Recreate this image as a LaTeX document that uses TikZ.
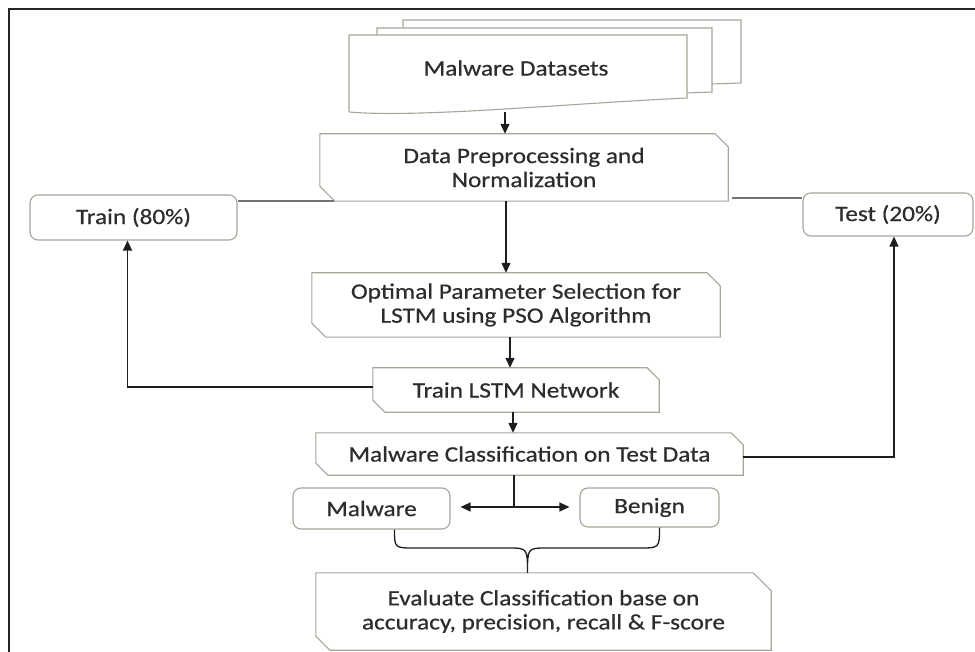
\documentclass[tikz,border=0pt]{standalone}
\usepackage{fontspec}
\setmainfont{Carlito}[FakeStretch=1.15,FakeBold=0.6]
\usetikzlibrary{arrows.meta,calc}
\definecolor{edge}{RGB}{160,168,152}
\definecolor{txt}{RGB}{45,45,45}
\definecolor{conn}{RGB}{30,30,30}
\definecolor{glin}{RGB}{115,115,115}
\newcommand\chamfer[3]{\draw[edgeline] (#1.north west) -- ([xshift=-#2]#1.north east) -- ([yshift=-#2]#1.north east) -- (#1.south east) -- ([xshift=#3]#1.south west) -- ([yshift=#3]#1.south west) -- cycle;}
\begin{document}
\begin{tikzpicture}[x=1pt,y=-1pt,
  box/.style={inner sep=0pt, align=center, text=txt, font=\fontsize{22}{24}\selectfont},
  rbox/.style={box, draw=edge, line width=1.1pt, rounded corners=8pt},
  edgeline/.style={draw=edge, line width=1.1pt},
  arr/.style={draw=conn, line width=1.3pt, -{Triangle[length=10pt,width=9pt]}},
  link/.style={draw=conn, line width=1.2pt},
  glink/.style={draw=glin, line width=1.5pt}]
\useasboundingbox (0,0) rectangle (975,652);
% frame
\draw[line width=2pt, black!85] (975,9) -- (9,9) -- (9,652);
% dataset stack
\draw[edgeline] (377,35) -- (377,28) -- (712,28) -- (712,92) -- (687,93);
\draw[edgeline] (403,28) -- (403,20) -- (741,20) -- (741,83) -- (712,84);
\draw[edgeline, fill=white] (349,112) -- (349,35) -- (687,35) -- (687,98) .. controls (560,104) and (420,118) .. (349,112);
\node[box] (ds) at (516,68) {Malware Datasets};
% main boxes
\node[box, minimum width=408pt, minimum height=67pt] (pre) at (524,167.5) {Data Preprocessing and\\Normalization};
\chamfer{pre}{13pt}{15pt}
\node[box, minimum width=408pt, minimum height=64pt] (opt) at (516,305) {Optimal Parameter Selection for\\LSTM using PSO Algorithm};
\chamfer{opt}{13pt}{14pt}
\node[box, minimum width=286pt, minimum height=44pt] (trn) at (516,390) {Train LSTM Network};
\chamfer{trn}{12pt}{12pt}
\node[box, minimum width=427pt, minimum height=42pt] (cls) at (529.5,454) {Malware Classification on Test Data};
\chamfer{cls}{12pt}{12pt}
\node[box, minimum width=455pt, minimum height=77pt] (eval) at (543.5,611.5) {Evaluate Classification base on\\accuracy, precision, recall \& F-score};
\chamfer{eval}{18pt}{14pt}
% rounded boxes
\node[rbox, minimum width=207pt, minimum height=45pt] (train) at (133.5,217.5) {Train (80\%)};
\node[rbox, minimum width=170pt, minimum height=43pt] (test) at (888,214.5) {Test (20\%)};
\node[rbox, minimum width=157pt, minimum height=41pt] (mal) at (371.5,508.5) {Malware};
\node[rbox, minimum width=139pt, minimum height=39pt] (ben) at (649.5,507.5) {Benign};
% spine arrows
\draw[arr] ([xshift=-11pt]ds.south |- 0,112) -- ([xshift=-19pt]pre.north);
\draw[arr] ([xshift=-18pt]pre.south) -- ([xshift=-10pt]opt.north);
\draw[arr] ([xshift=-6pt]opt.south) -- ([xshift=-6pt]trn.north);
\draw[arr] ([xshift=-3pt]trn.south) -- ([xshift=-16.5pt]cls.north);
% split lines
\draw[glink] (train.east |- pre.south) -- ([xshift=14pt]pre.south west);
\draw[glink] ([xshift=4pt,yshift=3pt]pre.south east) -- ([yshift=3pt]pre.south east -| test.west);
% feedback connectors
\draw[arr, line width=1.2pt] ([yshift=3pt]trn.west) -| ([xshift=-6pt]train.south);
\draw[arr, line width=1.2pt] ([yshift=-3pt]cls.east) -| ([xshift=6pt]test.south);
% classification split
\coordinate (j) at (514,507);
\draw[link] (j |- cls.south) -- (j);
\draw[draw=conn, line width=1.3pt, {Triangle[length=10pt,width=9pt]}-{Triangle[length=10pt,width=9pt]}, shorten <=10pt, shorten >=10pt] (mal.east |- j) -- (ben.west |- j);
% brace
\coordinate (bl) at ([xshift=23pt]mal.south);
\coordinate (br) at ([xshift=10pt]ben.south);
\coordinate (bm) at ([xshift=-16pt]eval.north);
\draw[link, line width=1.3pt] (bl) .. controls (bl |- 0,548) .. ([xshift=20pt]bl |- 0,548) -- ([xshift=-20pt]bm |- 0,548) .. controls (bm |- 0,548) .. (bm) .. controls (bm |- 0,548) .. ([xshift=20pt]bm |- 0,548) -- ([xshift=-20pt]br |- 0,548) .. controls (br |- 0,548) .. (br);
\end{tikzpicture}
\end{document}
